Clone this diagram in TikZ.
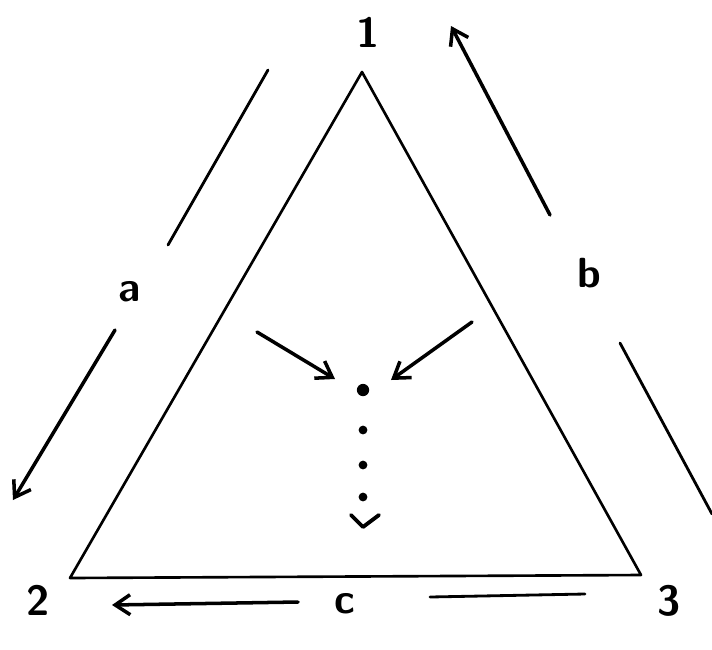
\documentclass[tikz,border=0pt]{standalone}
\usepackage{xcolor}
\usepackage{tikz}
\usetikzlibrary{arrows.meta, positioning, calc}
\tikzset{
  side/.style={line width=1.5pt, line join=round, color=black},
  lbl/.style={font=\fontsize{24}{28}\selectfont\sffamily\bfseries, text=black, inner sep=0pt},
  flow/.style={-{Straight Barb[length=3mm, width=4mm, line width=2pt]}, line width=2pt, line cap=round},
  stroke/.style={line width=1.6pt, line cap=round},
  dot/.style={circle, fill=black, inner sep=0pt, minimum size=#1},
  dot/.default=6pt,
}
\begin{document}
\begin{tikzpicture}[x=0.02cm, y=-0.02cm]
  \useasboundingbox (0,0) rectangle (712,649);
  % triangle corners
  \coordinate (v1) at (362,72);
  \coordinate (v2) at (70,578);
  \coordinate (v3) at (641,575);
  \draw[side] (v1) -- (v2) -- (v3) -- cycle;

  % corner labels
  \node[lbl] (n1) at (368,32) {1};
  \node[lbl] (n2) at (38,600) {2};
  \node[lbl] (n3) at (669,601) {3};

  % side a
  \coordinate (a1) at (268,70);
  \coordinate (a2) at (168,245);
  \coordinate (a3) at (115,330);
  \coordinate (a4) at (13,500);
  \node[lbl] (la) at (130,292) {a};
  \draw[stroke] (a1) -- (a2);
  \draw[flow] (a3) -- (a4);

  % side b
  \coordinate (b1) at (550,215);
  \coordinate (b2) at (451,26);
  \coordinate (b3) at (620,343);
  \coordinate (b4) at (712,514);
  \node[lbl] (lb) at (589,273) {b};
  \draw[flow] (b1) -- (b2);
  \draw[stroke] (b3) -- (b4);

  % side c
  \coordinate (c1) at (298,602);
  \coordinate (c2) at (112,605);
  \coordinate (c3) at (430,597);
  \coordinate (c4) at (585,594);
  \node[lbl] (lc) at (345,604) {c};
  \draw[flow] (c1) -- (c2);
  \draw[stroke] (c3) -- (c4);

  % inward arrows and dotted descent
  \node[dot=7pt] (d0) at (363,390) {};
  \coordinate (p1) at (257,332);
  \coordinate (p2) at (335,379);
  \coordinate (q1) at (472,322);
  \coordinate (q2) at (391,380);
  \draw[flow] (p1) -- (p2);
  \draw[flow] (q1) -- (q2);
  \foreach \y [count=\i] in {430,465,497}
    \node[dot=5pt] (d\i) at (363,\y) {};
  \draw[line width=2.2pt, line cap=round, line join=round]
    (351,515) -- (363,527) -- (379,515);
\end{tikzpicture}
\end{document}
